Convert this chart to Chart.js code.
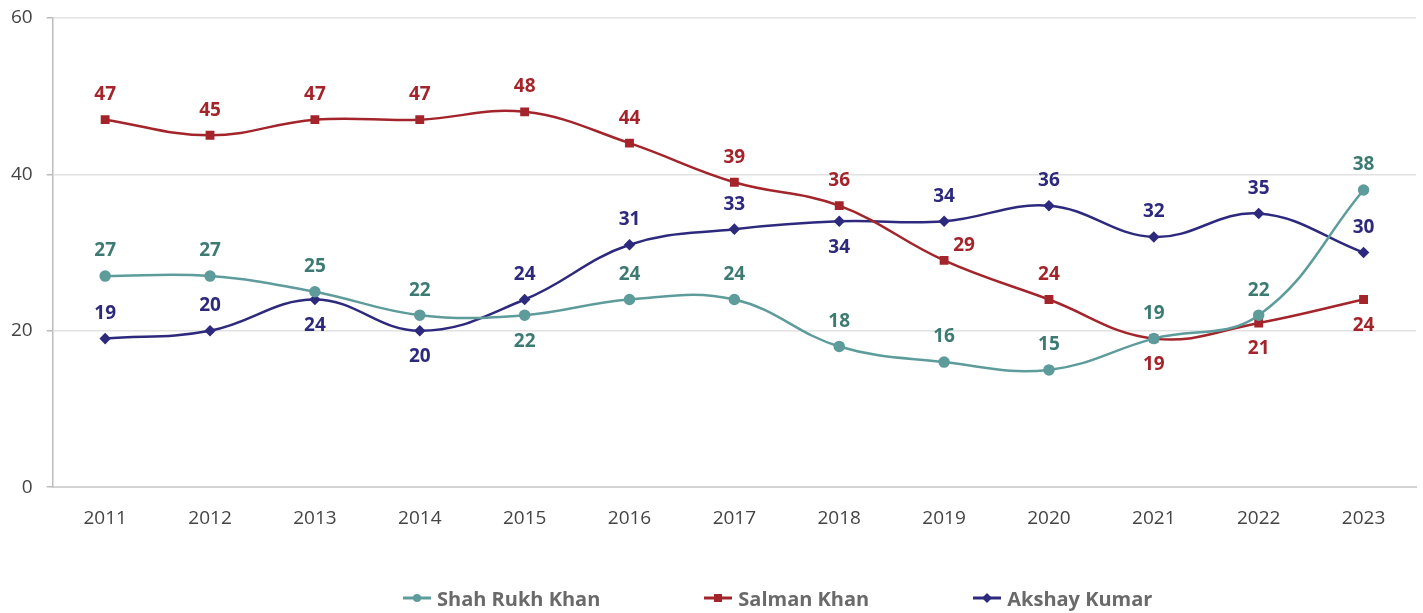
<!doctype html>
<html lang="en">
<head>
    <meta charset="utf-8">
    <title>Actors</title>
    <script src="https://cdn.jsdelivr.net/npm/chart.js@4.4.0/dist/chart.umd.min.js"></script>
    <style>
        html, body { margin: 0; padding: 0; background: #fff; }
        #wrap { width: 1423px; height: 613px; position: relative; }
        #legend {
            position: absolute; left: 403px; top: 585px; height: 26px;
            display: flex; align-items: center;
            font: bold 20px "Open Sans", sans-serif; color: #6a6a6a;
        }
        #legend .item { display: flex; align-items: center; margin-right: 104px; }
        #legend canvas { margin-right: 6px; }
    </style>
</head>
<body>
<div id="wrap">
    <canvas id="myChart"></canvas>
    <div id="legend"></div>
</div>
<script>
    var years = ['2011', '2012', '2013', '2014', '2015', '2016', '2017', '2018', '2019', '2020', '2021', '2022', '2023'];
    var srk = [27, 27, 25, 22, 22, 24, 24, 18, 16, 15, 19, 22, 38];
    var salman = [47, 45, 47, 47, 48, 44, 39, 36, 29, 24, 19, 21, 24];
    var akshay = [19, 20, 24, 20, 24, 31, 33, 34, 34, 36, 32, 35, 30];
    // where each value label sits: a = above, b = below, r = above right
    var srkPos = ['a', 'a', 'a', 'a', 'b', 'a', 'a', 'a', 'a', 'a', 'a', 'a', 'a'];
    var salmanPos = ['a', 'a', 'a', 'a', 'a', 'a', 'a', 'a', 'r', 'a', 'b', 'b', 'b'];
    var akshayPos = ['a', 'a', 'b', 'b', 'a', 'a', 'a', 'b', 'a', 'a', 'a', 'a', 'a'];
    var yTicks = [0, 20, 40, 60];

    var teal = '#5e9c9c', tealText = '#3d7b72';
    var red = '#a3252b', redText = '#a3252b';
    var navy = '#2d2a7e', navyText = '#2d2a7e';

    // legend swatch: short line with the marker in the middle
    function swatch(color, style) {
        var c = document.createElement('canvas');
        c.width = 28; c.height = 14;
        var g = c.getContext('2d');
        g.strokeStyle = color; g.fillStyle = color; g.lineWidth = 3;
        g.beginPath(); g.moveTo(0, 7); g.lineTo(28, 7); g.stroke();
        g.beginPath();
        if (style == 'circle') g.arc(14, 7, 4, 0, Math.PI * 2);
        else if (style == 'rect') g.rect(10, 3, 8, 8);
        else { g.moveTo(14, 2); g.lineTo(19, 7); g.lineTo(14, 12); g.lineTo(9, 7); g.closePath(); }
        g.fill();
        return c;
    }

    var valueLabels = {
        id: 'valueLabels',
        afterDatasetsDraw: function (chart) {
            var ctx = chart.ctx;
            ctx.save();
            ctx.font = 'bold 19px "Open Sans", sans-serif';
            ctx.textAlign = 'center';
            ctx.textBaseline = 'middle';
            chart.data.datasets.forEach(function (ds, i) {
                var meta = chart.getDatasetMeta(i);
                meta.data.forEach(function (pt, j) {
                    var p = ds.labelPos[j];
                    var x = pt.x, y = pt.y;
                    if (p == 'a') y -= 25;
                    else if (p == 'b') y += 26;
                    else { x += 20; y -= 15; }
                    ctx.fillStyle = ds.textColor;
                    ctx.fillText(ds.data[j], x, y);
                });
            });
            ctx.restore();
        }
    };

    var ctx = document.getElementById('myChart');
    var myChart = new Chart(ctx, {
        type: 'line',
        data: {
            labels: years,
            datasets: [{
                label: 'Shah Rukh Khan',
                data: srk,
                labelPos: srkPos,
                textColor: tealText,
                borderColor: teal,
                backgroundColor: teal,
                pointStyle: 'circle',
                pointRadius: 4.5,
                borderWidth: 2.5,
                tension: 0.4,
                legendStyle: 'circle'
            },
            {
                label: 'Salman Khan',
                data: salman,
                labelPos: salmanPos,
                textColor: redText,
                borderColor: red,
                backgroundColor: red,
                pointStyle: 'rect',
                pointRadius: 4.5,
                borderWidth: 2.5,
                tension: 0.4,
                legendStyle: 'rect'
            },
            {
                label: 'Akshay Kumar',
                data: akshay,
                labelPos: akshayPos,
                textColor: navyText,
                borderColor: navy,
                backgroundColor: navy,
                pointStyle: 'rectRot',
                pointRadius: 4,
                borderWidth: 2.5,
                tension: 0.4,
                legendStyle: 'diamond'
            }]
        },
        options: {
            responsive: true,
            maintainAspectRatio: false,
            animation: false,
            layout: { padding: { top: 18, right: 6, left: -3, bottom: 63 } },
            plugins: {
                tooltip: { enabled: false },
                legend: { display: false }
            },
            scales: {
                x: {
                    offset: true,
                    grid: { display: false, drawTicks: false },
                    border: { color: '#d4d4d4', width: 2 },
                    ticks: {
                        padding: 20,
                        color: '#444',
                        font: { family: '"Open Sans", sans-serif', size: 19 }
                    }
                },
                y: {
                    min: 0,
                    max: 60,
                    afterBuildTicks: function (axis) {
                        axis.ticks = yTicks.map(function (v) { return { value: v }; });
                    },
                    afterFit: function (axis) {
                        axis.paddingTop = 0;
                    },
                    grid: { color: '#e2e2e2', lineWidth: 1.5, tickLength: 6, tickColor: '#bbb' },
                    border: { color: '#bdbdbd', width: 1.5 },
                    ticks: {
                        padding: 14,
                        color: '#444',
                        font: { family: '"Open Sans", sans-serif', size: 19 }
                    }
                }
            }
        },
        plugins: [valueLabels]
    });

    // html legend under the chart
    var legend = document.getElementById('legend');
    myChart.data.datasets.forEach(function (ds) {
        var item = document.createElement('span');
        item.className = 'item';
        item.appendChild(swatch(ds.borderColor, ds.legendStyle));
        item.appendChild(document.createTextNode(ds.label));
        legend.appendChild(item);
    });
</script>
</body>
</html>
